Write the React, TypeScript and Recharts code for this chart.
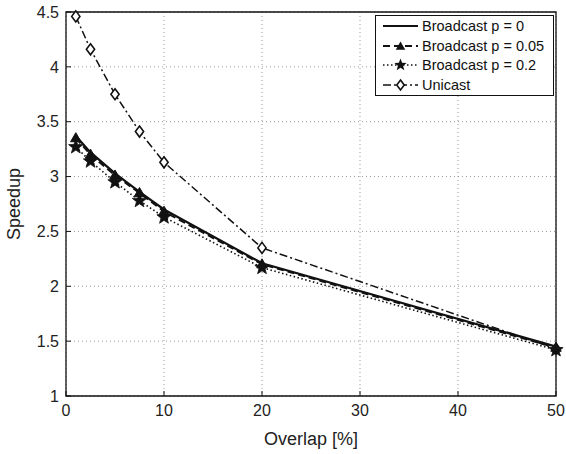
import React from "react";
import {
  LineChart,
  Line,
  XAxis,
  YAxis,
  CartesianGrid,
  ReferenceArea,
  Legend,
} from "recharts";

// overlap percentage at which each run was measured
const overlap = [1, 2.5, 5, 7.5, 10, 20, 50];

// measured speedup per scheme
const broadcastP0 = [3.37, 3.22, 3.03, 2.86, 2.7, 2.21, 1.45];
const broadcastP005 = [3.35, 3.2, 3.01, 2.85, 2.68, 2.2, 1.44];
const broadcastP02 = [3.27, 3.14, 2.95, 2.78, 2.63, 2.17, 1.42];
const unicast = [4.46, 4.16, 3.75, 3.41, 3.13, 2.35, 1.43];

const xTicks = [0, 10, 20, 30, 40, 50];
const yTicks = [1, 1.5, 2, 2.5, 3, 3.5, 4, 4.5];

const data = overlap.map((x, i) => ({
  x,
  p0: broadcastP0[i],
  p005: broadcastP005[i],
  p02: broadcastP02[i],
  uni: unicast[i],
}));

const INK = "#111";
const FONT = "'Liberation Sans', Arial, Helvetica, sans-serif";

const trianglePath = (cx: number, cy: number, r: number) =>
  `M${cx},${cy - r} L${cx + r * 0.95},${cy + r * 0.65} L${cx - r * 0.95},${cy + r * 0.65} Z`;

const starPath = (cx: number, cy: number, R: number) => {
  const r = R * 0.42;
  let d = "";
  for (let k = 0; k < 10; k++) {
    const rad = k % 2 === 0 ? R : r;
    const a = -Math.PI / 2 + (k * Math.PI) / 5;
    d += `${k === 0 ? "M" : "L"}${cx + rad * Math.cos(a)},${cy + rad * Math.sin(a)} `;
  }
  return d + "Z";
};

const diamondPath = (cx: number, cy: number, r: number) =>
  `M${cx},${cy - r} L${cx + r * 0.75},${cy} L${cx},${cy + r} L${cx - r * 0.75},${cy} Z`;

const TriangleDot = (p: any) =>
  p.cx == null ? null : (
    <path key={`t${p.index}`} d={trianglePath(p.cx, p.cy, 5.5)} fill={INK} stroke={INK} strokeWidth={1} />
  );

const StarDot = (p: any) =>
  p.cx == null ? null : (
    <path key={`s${p.index}`} d={starPath(p.cx, p.cy, 7.5)} fill={INK} stroke={INK} strokeWidth={0.8} />
  );

const DiamondDot = (p: any) =>
  p.cx == null ? null : (
    <path key={`d${p.index}`} d={diamondPath(p.cx, p.cy, 5.5)} fill="#fff" stroke={INK} strokeWidth={1.6} />
  );

const series = [
  { key: "p0", name: "Broadcast p = 0", dash: undefined, width: 2.2, dot: null },
  { key: "p005", name: "Broadcast p = 0.05", dash: "7 4", width: 1.8, dot: "tri" },
  { key: "p02", name: "Broadcast p = 0.2", dash: "1.5 2.5", width: 1.6, dot: "star" },
  { key: "uni", name: "Unicast", dash: "8 3 2 3", width: 1.5, dot: "dia" },
];

function LegendBox() {
  return (
    <div
      style={{
        border: `1.3px solid ${INK}`,
        background: "#fff",
        padding: "0 0 0 6px",
        fontFamily: FONT,
        fontSize: 14.5,
        color: INK,
        boxSizing: "border-box",
        width: 179,
      }}
    >
      {series.map((s) => (
        <div key={s.key} style={{ display: "flex", alignItems: "center", height: 19.7 }}>
          <svg width={38} height={14} style={{ marginRight: 2 }}>
            <line x1={1} x2={36} y1={7} y2={7} stroke={INK} strokeWidth={s.width} strokeDasharray={s.dash} />
            {s.dot === "tri" && <path d={trianglePath(18.5, 7.5, 5)} fill={INK} />}
            {s.dot === "star" && <path d={starPath(18.5, 7, 6.5)} fill={INK} />}
            {s.dot === "dia" && <path d={diamondPath(18.5, 7, 5)} fill="#fff" stroke={INK} strokeWidth={1.6} />}
          </svg>
          <span>{s.name}</span>
        </div>
      ))}
    </div>
  );
}

export default function App() {
  const tickStyle = { fontFamily: FONT, fontSize: 16, fill: "#222" };
  return (
    <div style={{ position: "absolute", left: 0, top: 0, width: 566, height: 454, background: "#fff" }}>
      <LineChart width={566} height={454} data={data} margin={{ top: 12, right: 10, bottom: 0, left: 0 }}>
        <CartesianGrid stroke="#999" strokeDasharray="1 3" strokeWidth={1} />
        <XAxis
          dataKey="x"
          type="number"
          domain={[0, 50]}
          ticks={xTicks}
          height={58}
          axisLine={false}
          tickSize={-5}
          tickMargin={14}
          tickLine={{ stroke: INK }}
          tick={tickStyle}
          label={{
            content: (p: any) => (
              <text
                x={p.viewBox.x + p.viewBox.width / 2}
                y={p.viewBox.y + 49}
                textAnchor="middle"
                fontFamily={FONT}
                fontSize={18}
                fill="#222"
              >
                Overlap [%]
              </text>
            ),
          }}
        />
        <YAxis
          type="number"
          domain={[1, 4.5]}
          ticks={yTicks}
          width={66}
          axisLine={false}
          tickSize={-5}
          tickMargin={12}
          tickLine={{ stroke: INK }}
          tick={tickStyle}
          label={{
            content: (p: any) => {
              const cy = p.viewBox.y + p.viewBox.height / 2;
              return (
                <text
                  x={20}
                  y={cy}
                  transform={`rotate(-90, 20, ${cy})`}
                  textAnchor="middle"
                  fontFamily={FONT}
                  fontSize={18}
                  fill="#222"
                >
                  Speedup
                </text>
              );
            },
          }}
        />
        <ReferenceArea x1={0} x2={50} y1={1} y2={4.5} fill="none" stroke={INK} strokeWidth={1.3} ifOverflow="visible" />
        <Line dataKey="uni" name="Unicast" stroke={INK} strokeWidth={1.5} strokeDasharray="8 3 2 3" dot={DiamondDot} isAnimationActive={false} />
        <Line dataKey="p02" name="Broadcast p = 0.2" stroke={INK} strokeWidth={1.6} strokeDasharray="1.5 2.5" dot={StarDot} isAnimationActive={false} />
        <Line dataKey="p005" name="Broadcast p = 0.05" stroke={INK} strokeWidth={1.8} strokeDasharray="7 4" dot={TriangleDot} isAnimationActive={false} />
        <Line dataKey="p0" name="Broadcast p = 0" stroke={INK} strokeWidth={2.2} dot={false} isAnimationActive={false} />
        <Legend
          layout="horizontal"
          verticalAlign="middle"
          content={() => <LegendBox />}
          wrapperStyle={{ position: "absolute", top: 15, left: 375, width: 179, height: "auto" }}
        />
      </LineChart>
    </div>
  );
}
